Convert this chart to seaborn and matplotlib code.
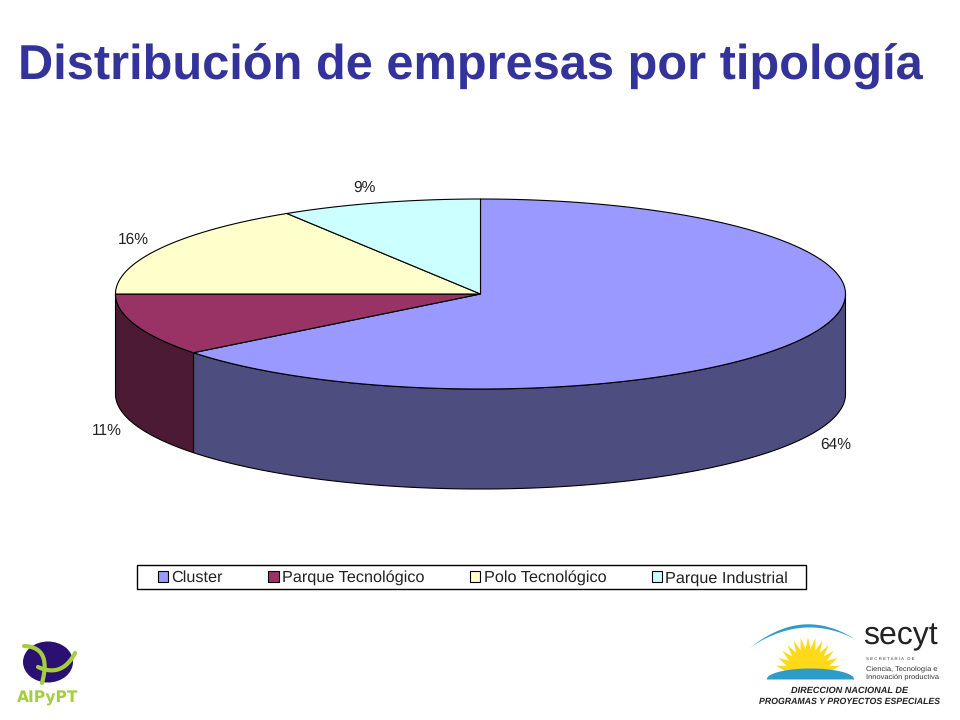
import numpy as np
import matplotlib
matplotlib.use("Agg")
import matplotlib.pyplot as plt
from matplotlib.patches import Polygon, Ellipse, Rectangle
import seaborn as sns

categories = ["Cluster", "Parque Tecnológico", "Polo Tecnológico", "Parque Industrial"]
shares = [64.4, 10.6, 16.1, 8.9]
share_labels = ["64%", "11%", "16%", "9%"]
top_colors = ["#9999FF", "#993366", "#FFFFCC", "#CCFFFF"]
side_colors = ["#4D4D80", "#4D1A33", "#80806A", "#6A8080"]
title = "Distribución de empresas por tipología"

sns.set_theme(style="white")
plt.rcParams['font.family'] = ['Liberation Sans', 'DejaVu Sans']
plt.rcParams['text.hinting'] = 'none'

fig = plt.figure(figsize=(9.6, 7.2), dpi=100, facecolor="white")
ax = fig.add_axes([0, 0, 1, 1])
ax.set_xlim(0, 960)
ax.set_ylim(720, 0)
ax.axis("off")

cx, cy, rx, ry, depth = 480.5, 294, 365, 95, 100


def rim(t0, t1, dy=0):
    t = np.radians(np.linspace(t0, t1, 200))
    return np.column_stack([cx + rx * np.sin(t), cy + dy - ry * np.cos(t)])


edges = np.concatenate([[0], np.cumsum(shares) / np.sum(shares) * 360])
handles = []
for i in range(len(shares)):
    a, b = max(edges[i], 90), min(edges[i + 1], 270)
    if b > a:
        pts = np.vstack([rim(a, b), rim(a, b, depth)[::-1]])
        ax.add_patch(Polygon(pts, closed=True, fc=side_colors[i], ec="black", lw=0.8, zorder=1))
for i in range(len(shares)):
    pts = np.vstack([[cx, cy], rim(edges[i], edges[i + 1])])
    h = Polygon(pts, closed=True, fc=top_colors[i], ec="black", lw=0.8, zorder=2,
                label=categories[i])
    ax.add_patch(h)
    handles.append(h)

label_xy = [(836, 445), (107, 431), (133, 240), (364, 188)]
for s, (x, y) in zip(share_labels, label_xy):
    ax.text(x, y, s, fontsize=11.2, color="#222222", ha="center", va="center", zorder=3)

ax.text(18, 67, title, fontsize=35.1, fontweight="bold", color="#333399", ha="left", va="center")

ax.add_patch(Rectangle((137, 565), 669, 24, fc="white", ec="black", lw=1.0, zorder=2))
leg = ax.legend(handles=handles, ncols=4, loc="center", bbox_to_anchor=(473, 578),
                bbox_transform=ax.transData, frameon=False, fontsize=11.7,
                handlelength=0.62, handleheight=0.62, handletextpad=0.2,
                columnspacing=2.83, borderpad=0, borderaxespad=0, labelcolor="#222222")
leg.set_zorder(3)

# AIPyPT logo
lime = "#A4CF3C"
ax.add_patch(Ellipse((48, 662), 50, 41, fc="#2A1070", ec="none", zorder=2))
t = np.linspace(0, 1, 60)
ax.plot(24 * (1 - t) ** 2 + 2 * 52 * t * (1 - t) + 42 * t ** 2,
        646 * (1 - t) ** 2 + 2 * 647 * t * (1 - t) + 683 * t ** 2,
        color=lime, lw=3.0, zorder=3, solid_capstyle="round")
ax.plot(38 * (1 - t) ** 2 + 2 * 62 * t * (1 - t) + 75 * t ** 2,
        667 * (1 - t) ** 2 + 2 * 678 * t * (1 - t) + 653 * t ** 2,
        color=lime, lw=3.0, zorder=3, solid_capstyle="round")
ax.text(48, 698, "AIPyPT", fontsize=11.2, fontweight="bold", color=lime, family="DejaVu Sans",
        ha="center", va="center", zorder=3)

# secyt logo
ang = np.linspace(np.pi, 0, 29)
rad = np.where(np.arange(29) % 2 == 0, 1.0, 0.68)
sun_x = 808 + rad * np.cos(ang) * 33
sun_y = 674 - rad * np.sin(ang) * 37
ax.add_patch(Polygon(np.column_stack([sun_x, sun_y]), closed=True, fc="#FFD91A", ec="none", zorder=2))
xs = np.linspace(766, 854, 60)
ax.fill_between(xs, 679 - 11 * np.sqrt(np.clip(1 - ((xs - 810) / 44) ** 2, 0, 1)), 679,
                color="#2E9CCB", lw=0, zorder=3)
xs = np.linspace(750, 855, 80)
bump = np.sin((xs - 750) / 105 * np.pi)
top = 648 - 20 * bump ** 0.8 - 8 * (xs - 750) / 105
ax.fill_between(xs, top, top + 3.2 * bump, color="#2E9CCB", lw=0, zorder=3)
ax.text(863, 636, "secyt", fontsize=23, color="#222222", ha="left", va="center")
ax.text(866, 659, "S E C R E T A R Í A   D E", fontsize=3.2, color="#333333", ha="left", va="center")
ax.text(866, 669, "Ciencia, Tecnología e", fontsize=5.4, color="#333333", ha="left", va="center")
ax.text(866, 676.5, "Innovación productiva", fontsize=5.4, color="#333333", ha="left", va="center")
ax.text(850, 691, "DIRECCION NACIONAL DE", fontsize=6.6, fontweight="bold", style="italic",
        color="#222222", ha="center", va="center")
ax.text(850, 702, "PROGRAMAS Y PROYECTOS ESPECIALES", fontsize=6.3, fontweight="bold", style="italic",
        color="#222222", ha="center", va="center")

fig.savefig("out.png", dpi=100, facecolor="white")
